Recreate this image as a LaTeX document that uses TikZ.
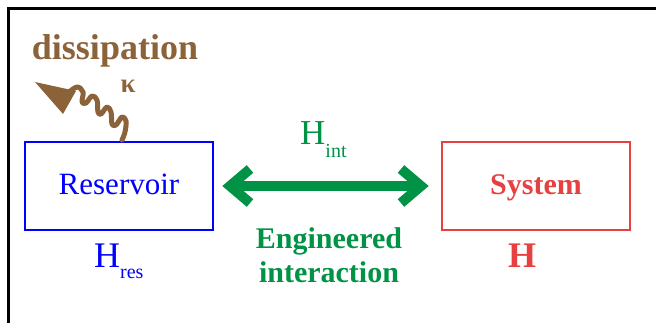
\documentclass[tikz,border=0pt]{standalone}
\usepackage{fontspec}
\setmainfont{Liberation Serif}
\usetikzlibrary{arrows.meta}
\definecolor{resblue}{RGB}{0,0,255}
\definecolor{sysred}{RGB}{230,64,64}
\definecolor{intgreen}{RGB}{0,146,69}
\definecolor{dissbrown}{RGB}{140,98,57}
\newcommand{\fs}[1]{\fontsize{#1pt}{#1pt}\selectfont}
\tikzset{
  box/.style={draw, line width=2.6pt, minimum width=188pt, minimum height=88pt, inner sep=0pt},
  lbl/.style={inner sep=0pt, anchor=base},
  chev/.tip={Straight Barb[length=20pt, width=34pt, line width=10pt]}
}
\begin{document}
\begin{tikzpicture}[x=1pt,y=-1pt]
\useasboundingbox (0,0) rectangle (656,323);
% frame
\draw[line width=3pt] (8.5,323) -- (8.5,8.5) -- (656,8.5);
% boxes
\node[box, draw=resblue] (res) at (119,186) {};
\node[box, draw=sysred] (sys) at (536,186) {};
\node[lbl, text=resblue] (restxt) at (119,195) {\fs{31}Reservoir};
\node[lbl, text=sysred] (systxt) at (536,195) {\fs{30}\bfseries System};
% hamiltonians
\node[lbl, anchor=base west, text=resblue] (hres) at (94,267) {\fs{36}H\raisebox{-12pt}{\fs{20}res}};
\node[lbl, text=sysred] (hsys) at (522,268) {\fs{36}\bfseries H};
\node[lbl, anchor=base west, text=intgreen] (hint) at (300,145) {\fs{35}H\raisebox{-13pt}{\fs{20}int}};
% interaction arrow
\draw[intgreen, line width=10pt, chev-chev, shorten <=8pt, shorten >=12pt] (res.east) -- (sys.west);
\node[lbl, text=intgreen] (eng1) at (329,248) {\fs{30}\bfseries Engineered};
\node[lbl, text=intgreen] (eng2) at (329,283) {\fs{30}\bfseries interaction};
% dissipation
\node[lbl, text=dissbrown] (diss) at (115,60) {\fs{36}\bfseries dissipation};
\node[lbl, text=dissbrown] (kappa) at (128,93) {\fs{27}\bfseries κ};
\draw[dissbrown, line width=5pt, line cap=round, line join=round]
  plot[smooth, tension=0.6] coordinates {(68,93) (77,87) (83,92) (82,102) (86,103) (92,96) (97,100) (98,112) (101,114) (107,107) (111,112) (112,124) (116,125) (122,117) (126,121) (125,132) (122,140)};
\fill[dissbrown] (35,82) -- (76,91) -- (63,114) -- cycle;
\end{tikzpicture}
\end{document}
